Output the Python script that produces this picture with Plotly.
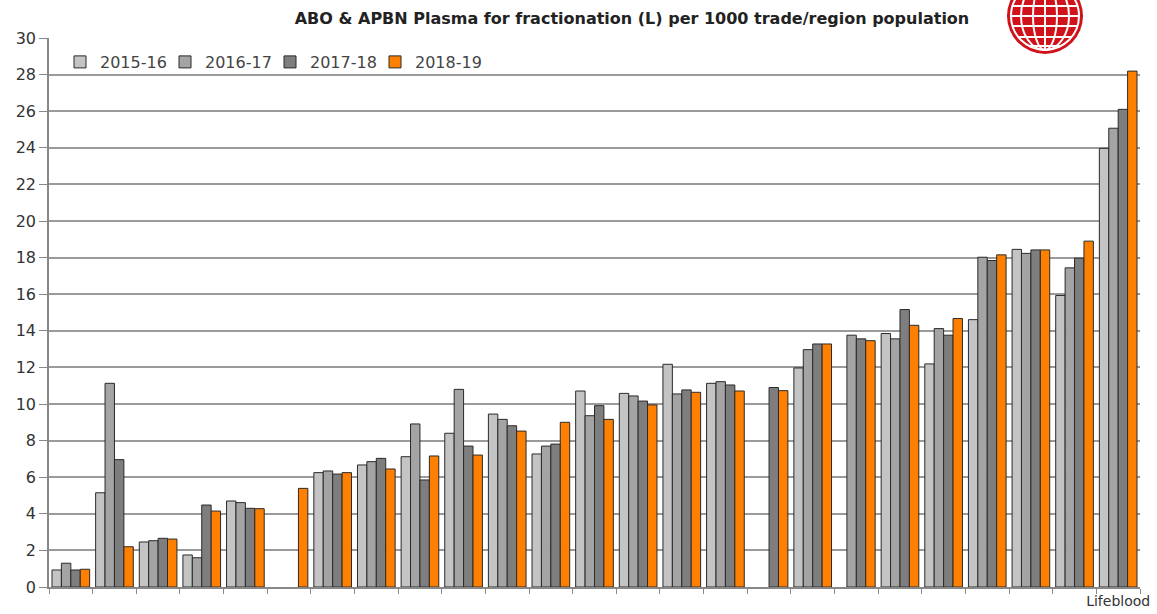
import math
import plotly.graph_objects as go

# Regions (anonymised except the last one, which is the only labelled category)
regions = [f"R{i:02d}" for i in range(1, 25)] + ["Lifeblood"]
tick_labels = [""] * 24 + ["Lifeblood"]

seasons = ["2015-16", "2016-17", "2017-18", "2018-19"]

v_2015_16 = [0.93, 5.15, 2.46, 1.75, 4.70, None, 6.25, 6.67, 7.12, 8.40,
             9.45, 7.27, 10.71, 10.58, 12.17, 11.13, None, 11.97, None, 13.85,
             12.19, 14.61, 18.45, 15.93, 23.97]
v_2016_17 = [1.30, 11.13, 2.53, 1.60, 4.61, None, 6.34, 6.85, 8.91, 10.80,
             9.16, 7.70, 9.36, 10.44, 10.55, 11.22, None, 12.97, 13.76, 13.56,
             14.12, 18.02, 18.23, 17.44, 25.07]
v_2017_18 = [0.93, 6.96, 2.66, 4.48, 4.30, None, 6.17, 7.03, 5.85, 7.70,
             8.81, 7.81, 9.91, 10.16, 10.77, 11.04, 10.90, 13.28, 13.56, 15.16,
             13.76, 17.84, 18.42, 17.97, 26.10]
v_2018_19 = [0.97, 2.20, 2.62, 4.15, 4.28, 5.39, 6.25, 6.45, 7.16, 7.21,
             8.52, 9.00, 9.16, 9.95, 10.64, 10.71, 10.73, 13.28, 13.46, 14.30,
             14.67, 18.15, 18.42, 18.90, 28.19]

series = [v_2015_16, v_2016_17, v_2017_18, v_2018_19]
colors = ["#c4c4c4", "#a4a4a4", "#7e7e7e", "#ff8000"]

y_ticks = list(range(0, 31, 2))

W, H = 1157, 614
ML, MR, MT, MB = 49, 17, 38, 27
PW, PH = W - ML - MR, H - MT - MB

FONT = "DejaVu Sans, Verdana, sans-serif"


def px_x(px):
    return (px - ML) / PW


def px_y(py):
    return (H - MB - py) / PH


legend_ids = ["legend", "legend2", "legend3", "legend4"]

fig = go.Figure()
for name, vals, col, lg in zip(seasons, series, colors, legend_ids):
    fig.add_trace(go.Bar(
        x=regions, y=vals, name=name, legend=lg, showlegend=True,
        marker=dict(color=col, line=dict(color="#2a2a2a", width=1)),
    ))

shapes = []
# white backing behind the emblem
shapes.append(dict(type="rect", xref="paper", yref="paper", layer="above",
                   x0=px_x(982), x1=px_x(W), y0=px_y(46), y1=px_y(0),
                   fillcolor="white", line=dict(width=0)))

# globe emblem
cx, cy, r = 1045, 16, 38
red = "#d0121b"
shapes.append(dict(type="circle", xref="paper", yref="paper", layer="above",
                   x0=px_x(cx - r), x1=px_x(cx + r), y0=px_y(cy + r), y1=px_y(cy - r),
                   fillcolor=red, line=dict(width=0)))
white_line = dict(color="white", width=2)
# outer ring
rr = r - 4
shapes.append(dict(type="circle", xref="paper", yref="paper", layer="above",
                   x0=px_x(cx - rr), x1=px_x(cx + rr), y0=px_y(cy + rr), y1=px_y(cy - rr),
                   line=white_line))
# meridians
for rx in (12, 24):
    shapes.append(dict(type="circle", xref="paper", yref="paper", layer="above",
                       x0=px_x(cx - rx), x1=px_x(cx + rx), y0=px_y(cy + rr), y1=px_y(cy - rr),
                       line=white_line))
shapes.append(dict(type="line", xref="paper", yref="paper", layer="above",
                   x0=px_x(cx), x1=px_x(cx), y0=px_y(cy + rr), y1=px_y(cy - rr),
                   line=white_line))
# parallels
for dy in (-10, 0, 10, 21, 30):
    hw = math.sqrt(max(rr * rr - dy * dy, 0))
    shapes.append(dict(type="line", xref="paper", yref="paper", layer="above",
                       x0=px_x(cx - hw), x1=px_x(cx + hw), y0=px_y(cy + dy), y1=px_y(cy + dy),
                       line=white_line))

legend_style = dict(
    orientation="h", y=px_y(62), xanchor="left", yanchor="middle",
    font=dict(family=FONT, size=16, color="#444444"),
    bgcolor="rgba(0,0,0,0)", itemwidth=30,
)
legends = {lg: dict(legend_style, x=px_x(60 + 105 * i)) for i, lg in enumerate(legend_ids)}

fig.update_layout(
    width=W, height=H,
    showlegend=True,
    margin=dict(l=ML, r=MR, t=MT, b=MB, autoexpand=False),
    paper_bgcolor="white", plot_bgcolor="white",
    barmode="group", bargap=0.137, bargroupgap=0,
    font=dict(family=FONT, color="#333333"),
    title=dict(
        text="<b>ABO & APBN Plasma for fractionation (L) per 1000 trade/region population</b>",
        x=px_x(632), xref="paper", xanchor="center",
        y=1 - 18 / H, yref="container", yanchor="middle",
        font=dict(family=FONT, size=16, color="#222222"),
    ),
    xaxis=dict(
        type="category", tickmode="array", tickvals=regions, ticktext=tick_labels,
        tickson="boundaries", ticks="outside", ticklen=5, tickcolor="#888888",
        tickangle=0, automargin=False,
        showline=True, linecolor="#888888", linewidth=1.5,
        showgrid=False, tickfont=dict(family=FONT, size=14, color="#333333"),
    ),
    yaxis=dict(
        range=[0, 30], tickvals=y_ticks, ticks="outside", ticklen=8,
        automargin=False,
        tickcolor="#888888", showline=True, linecolor="#888888", linewidth=1.5,
        showgrid=True, gridcolor="#9a9a9a", gridwidth=1.5, zeroline=False,
        tickfont=dict(family=FONT, size=16, color="#333333"),
    ),
    shapes=shapes,
    **legends,
)

fig.write_html("out.html")
